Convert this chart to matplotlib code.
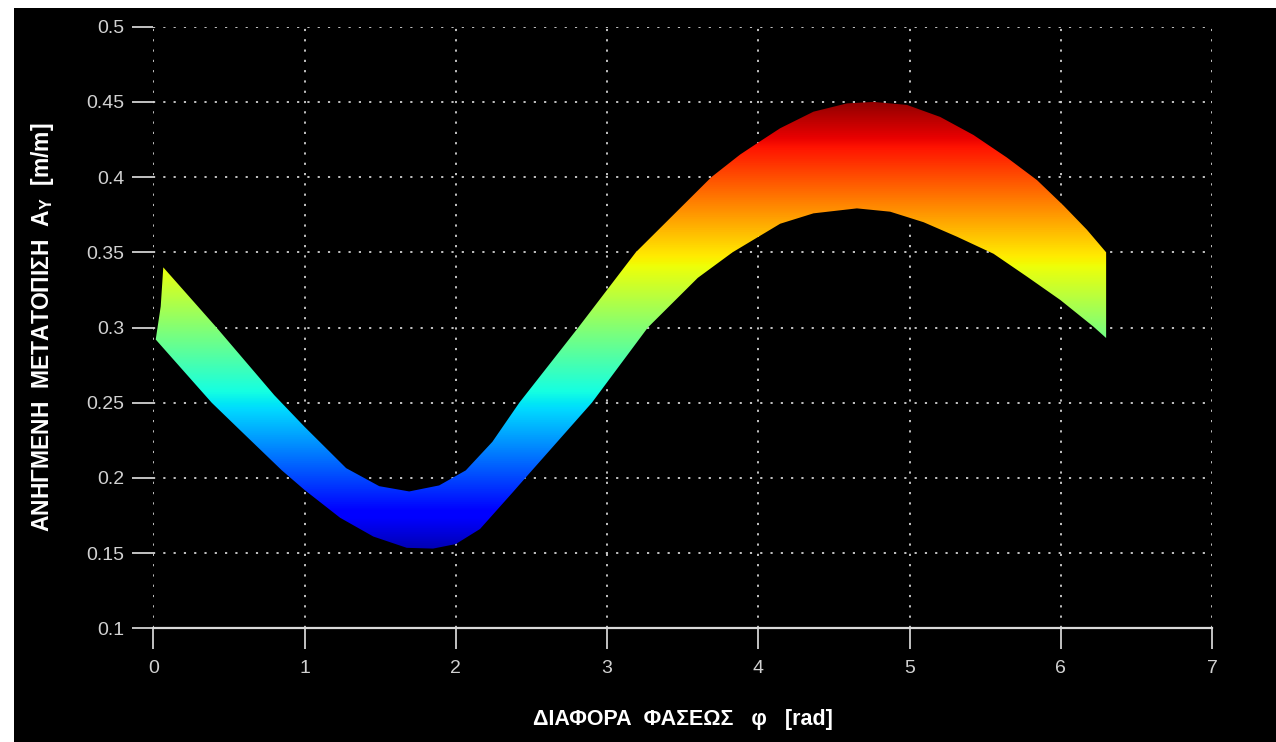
import numpy as np
import matplotlib
matplotlib.use('Agg')
import matplotlib.pyplot as plt
from matplotlib.patches import Polygon, Rectangle

# ---- data ----
# lower edge of the band of curves (x in rad, y in m/m)
lower_x = [0.016, 0.386, 0.571, 0.85, 1.0, 1.235, 1.455, 1.676, 1.85, 2.0, 2.16,
           2.373, 2.46, 2.57, 2.90, 3.27, 3.60, 3.83, 4.145, 4.365, 4.652, 4.872,
           5.093, 5.313, 5.556, 5.777, 5.997, 6.217, 6.30]
lower_y = [0.292, 0.250, 0.232, 0.205, 0.192, 0.1735, 0.161, 0.1535, 0.153, 0.156, 0.166,
           0.190, 0.200, 0.2125, 0.250, 0.300, 0.333, 0.350, 0.369, 0.3759, 0.3792, 0.377,
           0.370, 0.3604, 0.349, 0.3338, 0.3183, 0.3005, 0.293]
# upper edge of the band (starting at the left cap)
upper_x = [0.049, 0.066, 0.418, 0.80, 1.0, 1.275, 1.494, 1.692, 1.89, 2.066, 2.242,
           2.42, 2.81, 3.19, 3.43, 3.69, 3.88, 4.0, 4.145, 4.365, 4.586, 4.762, 4.983,
           5.203, 5.423, 5.644, 5.843, 6.019, 6.173, 6.30]
upper_y = [0.314, 0.340, 0.300, 0.255, 0.234, 0.2065, 0.1945, 0.191, 0.195, 0.205, 0.224,
           0.250, 0.300, 0.350, 0.374, 0.400, 0.415, 0.423, 0.4325, 0.4435, 0.449, 0.450, 0.448,
           0.440, 0.428, 0.413, 0.398, 0.381, 0.365, 0.350]

x_ticks = [0, 1, 2, 3, 4, 5, 6, 7]
y_ticks = [0.1, 0.15, 0.2, 0.25, 0.3, 0.35, 0.4, 0.45, 0.5]
y_tick_labels = ['0.1', '0.15', '0.2', '0.25', '0.3', '0.35', '0.4', '0.45', '0.5']
x_label = 'ΔΙΑΦΟΡΑ  ΦΑΣΕΩΣ   φ   [rad]'
y_label = 'ΑΝΗΓΜΕΝΗ  ΜΕΤΑΤΟΠΙΣΗ  A$_{\\mathregular{Y}}$  [m/m]'
color_min, color_max = 0.138, 0.455

plt.rcParams['mathtext.default'] = 'regular'

W, H = 1276, 742
fig = plt.figure(figsize=(W / 100, H / 100), dpi=100, facecolor='black')
# white margins of the screenshot
fig.add_artist(Rectangle((0, 1 - 8 / H), 1, 8 / H, transform=fig.transFigure,
                         facecolor='white', edgecolor='none', zorder=-5))
fig.add_artist(Rectangle((0, 0), 14 / W, 1, transform=fig.transFigure,
                         facecolor='white', edgecolor='none', zorder=-5))

ax = fig.add_axes([153.3 / W, 113.7 / H, 1058.7 / W, 601.6 / H])
ax.set_facecolor('black')
ax.set_xlim(0, 7)
ax.set_ylim(0.1, 0.5)

verts = list(zip(lower_x, lower_y)) + list(zip(upper_x[::-1], upper_y[::-1]))
poly = Polygon(verts, closed=True, facecolor='none', edgecolor='none')
ax.add_patch(poly)
grad = np.linspace(0, 1, 512).reshape(-1, 1)
im = ax.imshow(grad, cmap='jet', extent=[0, 7, color_min, color_max], origin='lower',
               aspect='auto', interpolation='bilinear', zorder=2)
im.set_clip_path(poly)

ax.set_axisbelow(True)
ax.grid(True, color=(0.82, 0.82, 0.82), linestyle=(0, (1.2, 4.5)), linewidth=1.3)

for s in ['left', 'top', 'right']:
    ax.spines[s].set_visible(False)
ax.spines['bottom'].set_color((0.85, 0.85, 0.85))
ax.spines['bottom'].set_linewidth(1.6)

ax.set_xticks(x_ticks)
ax.set_yticks(y_ticks)
ax.set_yticklabels(y_tick_labels)
ax.tick_params(axis='both', direction='out', length=15, width=1.3,
               colors=(0.82, 0.82, 0.82), labelsize=14)
ax.tick_params(axis='y', pad=6)
ax.tick_params(axis='x', pad=8)
for lab in ax.get_yticklabels():
    lab.set_family(['Liberation Sans', 'DejaVu Sans'])
for lab in ax.get_xticklabels():
    lab.set_family(['Liberation Sans', 'DejaVu Sans'])
    lab.set_fontsize(14)

ax.set_xlabel(x_label, fontsize=15.5, fontweight='bold', color='white',
              family=['Liberation Sans', 'DejaVu Sans'])
ax.xaxis.label.set_va('center')
ax.xaxis.set_label_coords(0.5, -0.1524)
ax.set_ylabel(y_label, fontsize=16.5, fontweight='bold', color='white',
              family=['Liberation Sans', 'DejaVu Sans'])
ax.yaxis.label.set_va('center')
ax.yaxis.set_label_coords(-0.105, 0.5)

fig.savefig('out.png', dpi=100, facecolor='black')
